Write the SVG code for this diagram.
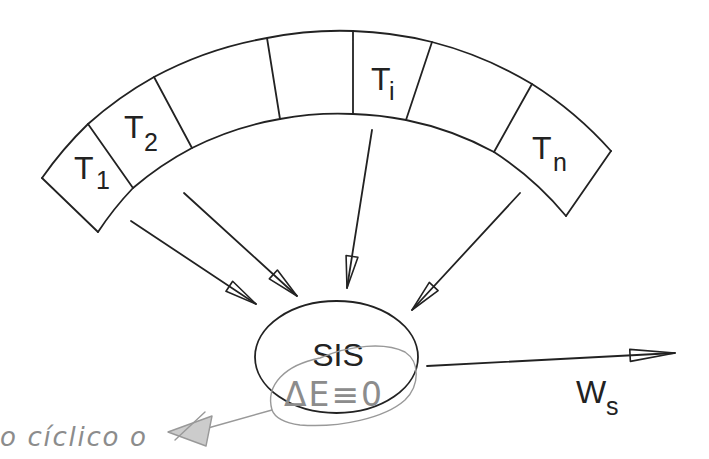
<svg xmlns="http://www.w3.org/2000/svg" width="709" height="459" viewBox="0 0 709 459">
<style>
.ln{fill:none;stroke:#222;stroke-width:1.8;stroke-linecap:round;stroke-linejoin:round}
.lbl{font-family:"Liberation Sans",Arial,sans-serif;fill:#222;font-size:32px}
.sub{font-family:"Liberation Sans",Arial,sans-serif;fill:#222;font-size:25px}
.pencil{fill:none;stroke:#999;stroke-width:1.4;stroke-linecap:round}
.ptxt{font-family:"DejaVu Sans",sans-serif;fill:#8c8c8c}
</style>
<defs>
<marker id="head" markerUnits="userSpaceOnUse" orient="auto" markerWidth="36" markerHeight="16" viewBox="-1 -8 36 16" refX="33" refY="0">
<path d="M1,-6 L33,0 L1,6 Z" fill="none" stroke="#222" stroke-width="1.6" stroke-linejoin="round"/>
</marker>
<marker id="headL" markerUnits="userSpaceOnUse" orient="auto" markerWidth="48" markerHeight="16" viewBox="-1 -8 48 16" refX="46" refY="0">
<path d="M1,-6 L46,0 L1,6 Z" fill="none" stroke="#222" stroke-width="1.6" stroke-linejoin="round"/>
</marker>
</defs>
<rect width="709" height="459" fill="#fff"/>

<g id="reservoirs">
<path class="ln" d="M42,178 A371,371 0 0 1 88,124 A371,371 0 0 1 154,77 A371,371 0 0 1 267,38 A371,371 0 0 1 353,31 A371,371 0 0 1 432,42 A371,371 0 0 1 532,84 A371,371 0 0 1 611,151"/>
<path class="ln" d="M98,232 A316,316 0 0 1 133,188 A316,316 0 0 1 192,148 A316,316 0 0 1 280,119 A316,316 0 0 1 353,114 A316,316 0 0 1 406,120 A316,316 0 0 1 494,152 A316,316 0 0 1 566,216"/>
<path class="ln" d="M42,178 L98,232 M611,151 L566,216 M88,124 L133,188 M154,77 L192,148 M267,38 L280,119 M353,31 L353,114 M432,42 L406,120 M532,84 L494,152"/>
</g>
<g id="T1"><text class="lbl" x="74" y="179">T</text><text class="sub" x="96" y="189">1</text></g>
<g id="T2"><text class="lbl" x="124" y="138">T</text><text class="sub" x="144" y="151">2</text></g>
<g id="Ti"><text class="lbl" x="371" y="90">T</text><text class="sub" x="389" y="100">i</text></g>
<g id="Tn"><text class="lbl" x="532" y="159">T</text><text class="sub" x="553" y="171">n</text></g>

<g id="SIS">
<ellipse class="ln" cx="336.5" cy="357" rx="81.5" ry="56"/>
<text class="lbl" x="338" y="366" text-anchor="middle">SIS</text>
</g>

<g id="connectors">
<line class="ln" x1="131" y1="221" x2="256" y2="304" marker-end="url(#head)"/>
<line class="ln" x1="184" y1="193" x2="297" y2="296" marker-end="url(#head)"/>
<line class="ln" x1="372" y1="130" x2="347" y2="288" marker-end="url(#head)"/>
<line class="ln" x1="520" y1="193" x2="412" y2="310" marker-end="url(#head)"/>
<line class="ln" x1="427" y1="366" x2="675" y2="353" marker-end="url(#headL)"/>
</g>
<g id="Ws"><text class="lbl" x="576" y="403">W</text><text class="sub" x="606" y="415">s</text></g>

<g id="pencil">
<path class="pencil" d="M272,410 C265,385 285,365 320,358 C350,345 385,342 405,352 C420,362 420,385 405,400 C385,418 340,428 300,425 C285,423 275,418 272,410"/>
<path class="pencil" d="M272,410 L208,428"/>
<path d="M168,432 L212,416 L206,446 Z" fill="#ccc" stroke="#999" stroke-width="1.4" stroke-linejoin="round"/>
<path class="pencil" d="M175,440 L205,412"/>
<text class="ptxt" x="284" y="406" font-size="33" letter-spacing="2">ΔE≡0</text>
<text class="ptxt" x="0" y="446" font-size="26" font-style="italic" textLength="146" lengthAdjust="spacing">o cíclico o</text>
</g>
</svg>
